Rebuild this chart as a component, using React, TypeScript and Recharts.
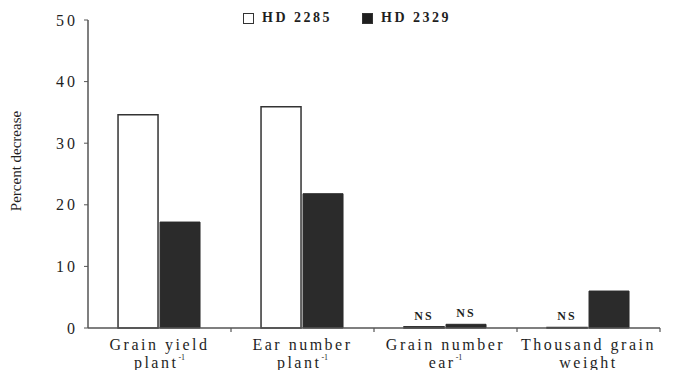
import { BarChart, Bar, XAxis, YAxis, Legend, LabelList, Label } from "recharts";

const catLine1 = ["Grain yield", "Ear number", "Grain number", "Thousand grain"];
const catLine2 = ["plant", "plant", "ear", "weight"];
const catSup = ["-1", "-1", "-1", ""];
const hd2285 = [34.6, 35.9, 0.2, 0.1];
const hd2329 = [17.2, 21.8, 0.6, 6.0];
const hd2285Sig = ["", "", "NS", "NS"];
const hd2329Sig = ["", "", "NS", ""];
const yTicks = [0, 10, 20, 30, 40, 50];
const seriesNames = ["HD 2285", "HD 2329"];

const data = catLine1.map((name, i) => ({
  name,
  a: hd2285[i],
  b: hd2329[i],
  sa: hd2285Sig[i],
  sb: hd2329Sig[i],
}));

const FONT = '"Liberation Serif", "Times New Roman", serif';
const INK = "#1f1f1f";

function CatTick(props: any) {
  const { x, y, payload } = props;
  const i = catLine1.indexOf(payload.value);
  const half = payload.offset || 71.5;
  return (
    <g>
      <line x1={x + half} x2={x + half} y1={y} y2={y + 4} stroke="#555" strokeWidth={1.2} />
      <text x={x} y={y + 22} textAnchor="middle" fontFamily={FONT} fontSize={16} letterSpacing={2.5} fill={INK}>
        {catLine1[i]}
      </text>
      <text x={x} y={y + 40} textAnchor="middle" fontFamily={FONT} fontSize={16} letterSpacing={2.5} fill={INK}>
        {catLine2[i]}
        {catSup[i] && <tspan fontSize={8} dy={-8} letterSpacing={0}>{catSup[i]}</tspan>}
      </text>
    </g>
  );
}

function LegendBox() {
  return (
    <div style={{ display: "flex", alignItems: "center", fontFamily: FONT, fontWeight: "bold", fontSize: 14, letterSpacing: 2.5, color: INK, whiteSpace: "nowrap" }}>
      {seriesNames.map((n, i) => (
        <span key={n} style={{ display: "flex", alignItems: "center", marginRight: i === 0 ? 30 : 0 }}>
          <span style={{ display: "inline-block", width: 9, height: 9, border: "1px solid #333", background: i === 0 ? "#fff" : INK, marginRight: 8 }} />
          {n}
        </span>
      ))}
    </div>
  );
}

export default function App() {
  return (
    <div style={{ position: "absolute", top: 0, left: 0, background: "#fff" }}>
      <BarChart width={678} height={370} data={data} margin={{ top: 20, right: 18, left: 0, bottom: 0 }} barCategoryGap="21%" barGap={2}>
        <XAxis dataKey="name" height={42} tick={<CatTick />} tickLine={false} tickSize={0} tickMargin={0} axisLine={{ stroke: "#555", strokeWidth: 1.5 }} interval={0} />
        <YAxis
          width={88}
          domain={[0, 50]}
          ticks={yTicks}
          tickSize={4}
          tickMargin={6}
          tickLine={{ stroke: "#555" }}
          axisLine={{ stroke: "#555", strokeWidth: 1.5 }}
          tick={{ fontFamily: FONT, fontSize: 16, letterSpacing: 3, fill: INK }}
        >
          <Label
            content={() => (
              <text x={18} y={161} transform="rotate(-90 18 161)" textAnchor="middle" dominantBaseline="middle" fontFamily={FONT} fontSize={15} fill={INK}>
                Percent decrease
              </text>
            )}
          />
        </YAxis>
        <Legend verticalAlign="middle" content={<LegendBox />} wrapperStyle={{ top: 10, left: 243, width: 240, height: 18 }} />
        <Bar dataKey="a" name={seriesNames[0]} fill="#fff" stroke="#333" strokeWidth={1.5} isAnimationActive={false}>
          <LabelList dataKey="sa" position="top" offset={7} style={{ fontFamily: FONT, fontSize: 12, fontWeight: "bold", letterSpacing: 2, fill: INK }} />
        </Bar>
        <Bar dataKey="b" name={seriesNames[1]} fill="#2b2b2b" stroke="#2b2b2b" strokeWidth={1} isAnimationActive={false}>
          <LabelList dataKey="sb" position="top" offset={7} style={{ fontFamily: FONT, fontSize: 12, fontWeight: "bold", letterSpacing: 2, fill: INK }} />
        </Bar>
      </BarChart>
    </div>
  );
}
